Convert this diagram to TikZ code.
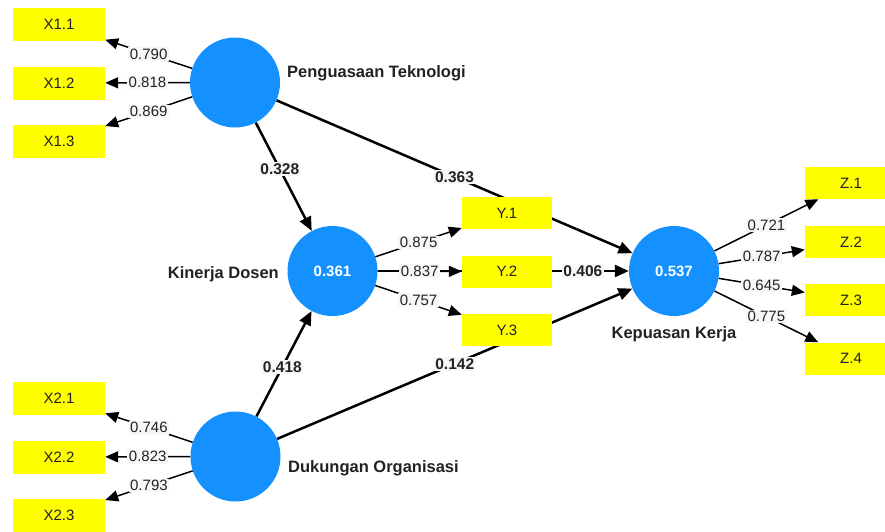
\documentclass[tikz,border=0pt]{standalone}
\usepackage{fontspec}
\setmainfont{Liberation Sans}
\usetikzlibrary{arrows.meta,backgrounds}
\definecolor{lvblue}{RGB}{20,145,255}
\definecolor{indyel}{RGB}{255,255,0}
\definecolor{txt}{RGB}{34,34,34}
\begin{document}
\begin{tikzpicture}[x=1pt,y=-1pt,
  lv/.style={circle,fill=lvblue,minimum size=90pt,inner sep=0pt,text=white,font=\fontsize{15}{18}\selectfont\bfseries},
  ind/.style={rectangle,fill=indyel,minimum width=92pt,minimum height=33pt,inner sep=0pt,text=txt,font=\fontsize{15}{18}\selectfont},
  yind/.style={ind,minimum width=90pt,minimum height=32pt},
  lvname/.style={text=txt,font=\fontsize{16.5}{20}\selectfont\bfseries,inner sep=0pt},
  loadarr/.style={line width=1.5pt,draw=black,-{Triangle[length=13pt,width=11pt]}},
  patharr/.style={line width=2.5pt,draw=black,-{Triangle[length=14pt,width=12pt]}},
  lbl/.style={fill=black!3,text=txt,inner sep=1.5pt,font=\fontsize{15}{18}\selectfont},
  plbl/.style={fill=black!3,text=txt,inner sep=1.5pt,font=\fontsize{15.5}{18}\selectfont\bfseries}
]
\clip (0,0) rectangle (885,531);
% latent variables
\node[lv] (P) at (235,82.5) {};
\node[lv] (D) at (235.5,456.5) {};
\node[lv] (K) at (332.5,271) {0.361};
\node[lv] (Q) at (674,271) {0.537};
% names
\node[lvname,anchor=base west] (Pn) at (287,77.5) {Penguasaan Teknologi};
\node[lvname,anchor=base west] (Dn) at (288,472.5) {Dukungan Organisasi};
\node[lvname,anchor=base east] (Kn) at (279,278) {Kinerja Dosen};
\node[lvname,anchor=base] (Qn) at (674,338) {Kepuasan Kerja};
% indicators
\node[ind] (X11) at (59,24.5) {X1.1};
\node[ind] (X12) at (59,83) {X1.2};
\node[ind] (X13) at (59,141.5) {X1.3};
\node[ind] (X21) at (59,398) {X2.1};
\node[ind] (X22) at (59,457) {X2.2};
\node[ind] (X23) at (59,515.5) {X2.3};
\node[yind] (Y1) at (507,213) {Y.1};
\node[yind] (Y2) at (507,271.5) {Y.2};
\node[yind] (Y3) at (507,330) {Y.3};
\node[ind,minimum height=32pt] (Z1) at (851,183) {Z.1};
\node[ind,minimum height=32pt] (Z2) at (851,242) {Z.2};
\node[ind,minimum height=32pt] (Z3) at (851,300) {Z.3};
\node[ind,minimum height=32pt] (Z4) at (851,358.5) {Z.4};
\begin{scope}[on background layer]
\fill[white] (0,0) rectangle (885,531);
% structural paths
\draw[patharr] (P) -- node[plbl,pos=0.43] {0.328} (K);
\draw[patharr] (D) -- node[plbl,pos=0.47] {0.418} (K);
\draw[patharr] (P) -- node[plbl,pos=0.5] {0.363} (Q);
\draw[patharr] (D) -- node[plbl,pos=0.5] {0.142} (Q);
\draw[patharr] (K) -- node[plbl,pos=0.817] {0.406} (Q);
\end{scope}
% loadings
\draw[loadarr] (P) -- node[lbl] {0.790} (X11);
\draw[loadarr] (P) -- node[lbl] {0.818} (X12);
\draw[loadarr] (P) -- node[lbl] {0.869} (X13);
\draw[loadarr] (D) -- node[lbl] {0.746} (X21);
\draw[loadarr] (D) -- node[lbl] {0.823} (X22);
\draw[loadarr] (D) -- node[lbl] {0.793} (X23);
\draw[loadarr] (K) -- node[lbl] {0.875} (Y1);
\draw[loadarr] (K) -- node[lbl] {0.837} (Y2);
\draw[loadarr] (K) -- node[lbl] {0.757} (Y3);
\draw[loadarr] (Q) -- node[lbl] {0.721} (Z1);
\draw[loadarr] (Q) -- node[lbl] {0.787} (Z2);
\draw[loadarr] (Q) -- node[lbl] {0.645} (Z3);
\draw[loadarr] (Q) -- node[lbl] {0.775} (Z4);
\end{tikzpicture}
\end{document}
